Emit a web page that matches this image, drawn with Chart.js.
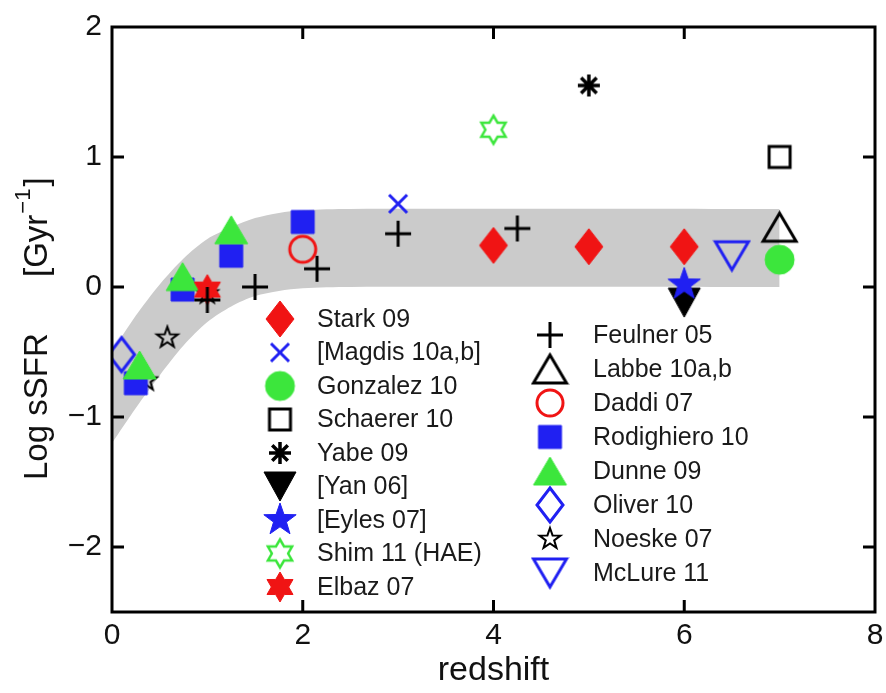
<!DOCTYPE html>
<html>
<head>
<meta charset="utf-8">
<script src="https://cdn.jsdelivr.net/npm/chart.js@4/dist/chart.umd.min.js"></script>
<style>
  html, body { margin: 0; padding: 0; background: #fff; }
  #wrap { width: 886px; height: 693px; }
</style>
</head>
<body>
<div id="wrap"><canvas id="c" width="886" height="693"></canvas></div>
<script>
// Specific star formation rate (log, Gyr^-1) versus redshift, per survey
const starkZ = [4.0, 5.0, 6.0];
const starkSSFR = [0.32, 0.31, 0.31];
const magdisZ = [3.0];
const magdisSSFR = [0.64];
const gonzalezZ = [7.0];
const gonzalezSSFR = [0.21];
const schaererZ = [7.0];
const schaererSSFR = [1.0];
const yabeZ = [5.0];
const yabeSSFR = [1.55];
const yanZ = [6.0];
const yanSSFR = [-0.12];
const eylesZ = [6.0];
const eylesSSFR = [0.02];
const shimZ = [4.0];
const shimSSFR = [1.21];
const elbazZ = [1.0];
const elbazSSFR = [-0.02];
const feulnerZ = [1.0, 1.5, 2.15, 3.0, 4.25];
const feulnerSSFR = [-0.1, 0.0, 0.14, 0.41, 0.45];
const labbeZ = [7.0];
const labbeSSFR = [0.46];
const daddiZ = [2.0];
const daddiSSFR = [0.29];
const rodighieroZ = [0.25, 0.74, 1.25, 2.0];
const rodighieroSSFR = [-0.74, -0.02, 0.24, 0.50];
const dunneZ = [0.29, 0.74, 1.25];
const dunneSSFR = [-0.6, 0.08, 0.44];
const oliverZ = [0.1];
const oliverSSFR = [-0.52];
const noeskeZ = [0.36, 0.58, 1.0];
const noeskeSSFR = [-0.72, -0.39, -0.05];
const mclureZ = [6.5];
const mclureSSFR = [0.24];

// Shaded model envelope: upper and lower bounds
const bandZ     = [0.0,  0.25,  0.5,   0.75,  1.0,   1.25,  1.5,   1.75,  2.0,   2.5,  7.0];
const bandUpper = [-0.5, -0.22, 0.02,  0.22,  0.37,  0.46,  0.53,  0.57,  0.59,  0.6,  0.6];
const bandLower = [-1.2, -0.93, -0.68, -0.45, -0.27, -0.15, -0.07, -0.03, -0.01, 0.0,  0.0];

const xTicks = [0, 2, 4, 6, 8];
const yTicks = [-2, -1, 0, 1, 2];

const leftLegend = ['Stark 09', '[Magdis 10a,b]', 'Gonzalez 10', 'Schaerer 10', 'Yabe 09',
                    '[Yan 06]', '[Eyles 07]', 'Shim 11 (HAE)', 'Elbaz 07'];
const rightLegend = ['Feulner 05', 'Labbe 10a,b', 'Daddi 07', 'Rodighiero 10', 'Dunne 09',
                     'Oliver 10', 'Noeske 07', 'McLure 11'];

const RED = '#f01414', BLUE = '#2020f2', GREEN = '#3ce63c', BLACK = '#000';

// ---- marker glyphs rendered onto small canvases ----
function glyph(w, h, paint) {
  const pad = 3;
  const c = document.createElement('canvas');
  c.width = Math.ceil(w + 2 * pad);
  c.height = Math.ceil(h + 2 * pad);
  const g = c.getContext('2d');
  g.translate(c.width / 2, c.height / 2);
  g.lineJoin = 'miter';
  paint(g, w / 2, h / 2);
  return c;
}
function finish(g, fill, stroke, lw) {
  if (fill) { g.fillStyle = fill; g.fill(); }
  if (stroke) { g.strokeStyle = stroke; g.lineWidth = lw; g.stroke(); }
}
function poly(g, pts) {
  g.beginPath();
  pts.forEach((p, i) => i ? g.lineTo(p[0], p[1]) : g.moveTo(p[0], p[1]));
  g.closePath();
}
function starPts(n, R, r, rot) {
  const pts = [];
  for (let i = 0; i < 2 * n; i++) {
    const a = rot + i * Math.PI / n;
    const rr = i % 2 ? r : R;
    pts.push([rr * Math.sin(a), -rr * Math.cos(a)]);
  }
  return pts;
}
const mk = {
  diamond: (w, h, fill, stroke, lw) => glyph(w, h, (g, rx, ry) => { poly(g, [[0,-ry],[rx,0],[0,ry],[-rx,0]]); finish(g, fill, stroke, lw); }),
  triUp: (w, h, fill, stroke, lw) => glyph(w, h, (g, rx, ry) => { poly(g, [[0,-ry],[rx,ry],[-rx,ry]]); finish(g, fill, stroke, lw); }),
  triDown: (w, h, fill, stroke, lw) => glyph(w, h, (g, rx, ry) => { poly(g, [[0,ry],[rx,-ry],[-rx,-ry]]); finish(g, fill, stroke, lw); }),
  circle: (d, fill, stroke, lw) => glyph(d, d, (g, r) => { g.beginPath(); g.arc(0, 0, r, 0, 2 * Math.PI); finish(g, fill, stroke, lw); }),
  square: (s, fill, stroke, lw) => glyph(s, s, (g, r) => { poly(g, [[-r,-r],[r,-r],[r,r],[-r,r]]); finish(g, fill, stroke, lw); }),
  star5: (d, fill, stroke, lw) => glyph(d, d, (g, R) => { poly(g, starPts(5, R, R * 0.4, 0)); finish(g, fill, stroke, lw); }),
  star6: (d, fill, stroke, lw) => glyph(d, d, (g, R) => { poly(g, starPts(6, R, R * 0.58, 0)); finish(g, fill, stroke, lw); }),
  plus: (s, color, lw) => glyph(s, s, (g, r) => {
    g.beginPath(); g.moveTo(-r, 0); g.lineTo(r, 0); g.moveTo(0, -r); g.lineTo(0, r);
    g.strokeStyle = color; g.lineWidth = lw; g.stroke();
  }),
  cross: (s, color, lw) => glyph(s, s, (g, r) => {
    g.beginPath(); g.moveTo(-r, -r); g.lineTo(r, r); g.moveTo(r, -r); g.lineTo(-r, r);
    g.strokeStyle = color; g.lineWidth = lw; g.stroke();
  }),
  asterisk: (s, color, lw) => glyph(s, s, (g, r) => {
    g.beginPath();
    for (let i = 0; i < 4; i++) {
      const a = i * Math.PI / 4;
      g.moveTo(-r * Math.cos(a), -r * Math.sin(a));
      g.lineTo(r * Math.cos(a), r * Math.sin(a));
    }
    g.strokeStyle = color; g.lineWidth = lw; g.stroke();
  })
};

const series = [
  { label: 'Stark 09',       z: starkZ,      s: starkSSFR,      mark: mk.diamond(28, 36, RED, RED, 1) },
  { label: '[Magdis 10a,b]', z: magdisZ,     s: magdisSSFR,     mark: mk.cross(18, BLUE, 3) },
  { label: 'Gonzalez 10',    z: gonzalezZ,   s: gonzalezSSFR,   mark: mk.circle(29, GREEN, GREEN, 1) },
  { label: 'Schaerer 10',    z: schaererZ,   s: schaererSSFR,   mark: mk.square(21, null, BLACK, 3) },
  { label: 'Yabe 09',        z: yabeZ,       s: yabeSSFR,       mark: mk.asterisk(22, BLACK, 3.5) },
  { label: '[Eyles 07]',     z: eylesZ,      s: eylesSSFR,      mark: mk.star5(34, BLUE, BLUE, 1) },
  { label: '[Yan 06]',       z: yanZ,        s: yanSSFR,        mark: mk.triDown(32, 29, BLACK, BLACK, 1) },
  { label: 'Shim 11 (HAE)',  z: shimZ,       s: shimSSFR,       mark: mk.star6(28, null, GREEN, 2.5) },
  { label: 'Feulner 05',     z: feulnerZ,    s: feulnerSSFR,    mark: mk.plus(26, BLACK, 3) },
  { label: 'Elbaz 07',       z: elbazZ,      s: elbazSSFR,      mark: mk.star6(30, RED, RED, 1) },
  { label: 'Labbe 10a,b',    z: labbeZ,      s: labbeSSFR,      mark: mk.triUp(33, 28, null, BLACK, 3) },
  { label: 'Daddi 07',       z: daddiZ,      s: daddiSSFR,      mark: mk.circle(26, null, RED, 3) },
  { label: 'Dunne 09',       z: dunneZ,      s: dunneSSFR,      mark: mk.triUp(33, 28, GREEN, GREEN, 1) },
  { label: 'Rodighiero 10',  z: rodighieroZ, s: rodighieroSSFR, mark: mk.square(23, BLUE, BLUE, 1) },
  { label: 'Noeske 07',      z: noeskeZ,     s: noeskeSSFR,     mark: mk.star5(22, null, BLACK, 2) },
  { label: 'Oliver 10',      z: oliverZ,     s: oliverSSFR,     mark: mk.diamond(26, 34, null, BLUE, 3) },
  { label: 'McLure 11',      z: mclureZ,     s: mclureSSFR,     mark: mk.triDown(33, 28, null, BLUE, 3) }
];

const datasets = series.map(sr => ({
  label: sr.label,
  data: sr.z.map((z, i) => ({ x: z, y: sr.s[i] })),
  pointStyle: sr.mark,
  pointRadius: 10,
  pointHoverRadius: 10,
  showLine: false,
  order: 0
}));

datasets.push({
  label: 'envelope-upper',
  data: bandZ.map((z, i) => ({ x: z, y: bandUpper[i] })),
  showLine: true, fill: '+1', backgroundColor: '#cbcbcb',
  borderColor: 'rgba(0,0,0,0)', borderWidth: 0, pointRadius: 0, tension: 0.3, order: 10
});
datasets.push({
  label: 'envelope-lower',
  data: bandZ.map((z, i) => ({ x: z, y: bandLower[i] })),
  showLine: true, fill: false,
  borderColor: 'rgba(0,0,0,0)', borderWidth: 0, pointRadius: 0, tension: 0.3, order: 10
});

const FONT = '"Liberation Sans", Arial, Helvetica, sans-serif';

// box outline with inward tick marks on all four sides
const framePlugin = {
  id: 'frame',
  afterDatasetsDraw(chart) {
    const { ctx, chartArea: a, scales } = chart;
    ctx.save();
    ctx.strokeStyle = '#000';
    ctx.lineWidth = 3;
    ctx.lineCap = 'square';
    ctx.strokeRect(a.left, a.top, a.right - a.left, a.bottom - a.top);
    const tl = 12;
    ctx.beginPath();
    xTicks.forEach(v => {
      const px = scales.x.getPixelForValue(v);
      if (px <= a.left + 1 || px >= a.right - 1) return;
      ctx.moveTo(px, a.bottom); ctx.lineTo(px, a.bottom - tl);
      ctx.moveTo(px, a.top); ctx.lineTo(px, a.top + tl);
    });
    yTicks.forEach(v => {
      const py = scales.y.getPixelForValue(v);
      if (py <= a.top + 1 || py >= a.bottom - 1) return;
      ctx.moveTo(a.left, py); ctx.lineTo(a.left + tl, py);
      ctx.moveTo(a.right, py); ctx.lineTo(a.right - tl, py);
    });
    ctx.lineCap = 'butt';
    ctx.stroke();
    ctx.restore();
  }
};

// vertical axis title with a raised exponent
const yTitlePlugin = {
  id: 'yTitle',
  afterDraw(chart) {
    const ctx = chart.ctx;
    const big = '33px ' + FONT, small = '22px ' + FONT;
    ctx.save();
    ctx.translate(38, 480);
    ctx.rotate(-Math.PI / 2);
    ctx.fillStyle = '#111';
    ctx.textBaseline = 'middle';
    ctx.textAlign = 'left';
    ctx.font = big;
    ctx.fillText('Log sSFR', 0, 0);
    let x = 203;
    ctx.fillText('[Gyr', x, 0);
    x += ctx.measureText('[Gyr').width + 1;
    ctx.font = small;
    ctx.fillText('\u22121', x, -14);
    x += ctx.measureText('\u22121').width + 2;
    ctx.font = big;
    ctx.fillText(']', x, 0);
    ctx.restore();
  }
};

// two-column legend inside the axes
const legendPlugin = {
  id: 'insetLegend',
  afterDraw(chart) {
    const ctx = chart.ctx;
    const cols = [
      { items: leftLegend, mx: 280, tx: 317, y0: 319, dy: 33.5 },
      { items: rightLegend, mx: 550, tx: 593, y0: 335, dy: 34 }
    ];
    ctx.save();
    ctx.font = '25px ' + FONT;
    ctx.fillStyle = '#1a1a1a';
    ctx.textBaseline = 'middle';
    ctx.textAlign = 'left';
    cols.forEach(col => {
      col.items.forEach((label, i) => {
        const ds = chart.data.datasets.find(d => d.label === label);
        const y = col.y0 + i * col.dy;
        Chart.helpers.drawPoint(ctx, { pointStyle: ds.pointStyle, rotation: 0, radius: 10 }, col.mx, y);
        ctx.fillText(label, col.tx, y + 1);
      });
    });
    ctx.restore();
  }
};

new Chart(document.getElementById('c'), {
  type: 'scatter',
  data: { datasets },
  plugins: [framePlugin, yTitlePlugin, legendPlugin],
  options: {
    responsive: false,
    animation: false,
    devicePixelRatio: 1,
    layout: { padding: { top: 27, right: 8, left: 0, bottom: 0 } },
    plugins: {
      legend: { display: false },
      tooltip: { enabled: false },
      filler: { drawTime: 'beforeDatasetsDraw' }
    },
    scales: {
      x: {
        type: 'linear', min: 0, max: 8,
        afterBuildTicks: s => { s.ticks = xTicks.map(v => ({ value: v })); },
        afterFit: s => { s.height = 81; s.paddingLeft = 0; s.paddingRight = 0; },
        grid: { display: false, drawTicks: false },
        border: { display: false },
        ticks: { font: { family: FONT, size: 30 }, color: '#111', padding: 6, maxRotation: 0, autoSkip: false },
        title: { display: true, text: 'redshift', font: { family: FONT, size: 34 }, color: '#111', padding: { top: 0, bottom: 2 } }
      },
      y: {
        type: 'linear', min: -2.5, max: 2,
        afterBuildTicks: s => { s.ticks = yTicks.map(v => ({ value: v })); },
        afterFit: s => { s.width = 112; s.paddingTop = 0; s.paddingBottom = 0; },
        grid: { display: false, drawTicks: false },
        border: { display: false },
        ticks: {
          font: { family: FONT, size: 30 }, color: '#111', padding: 10, autoSkip: false,
          callback: v => String(v).replace('-', '\u2212')
        },
        title: { display: false }
      }
    }
  }
});
</script>
</body>
</html>
